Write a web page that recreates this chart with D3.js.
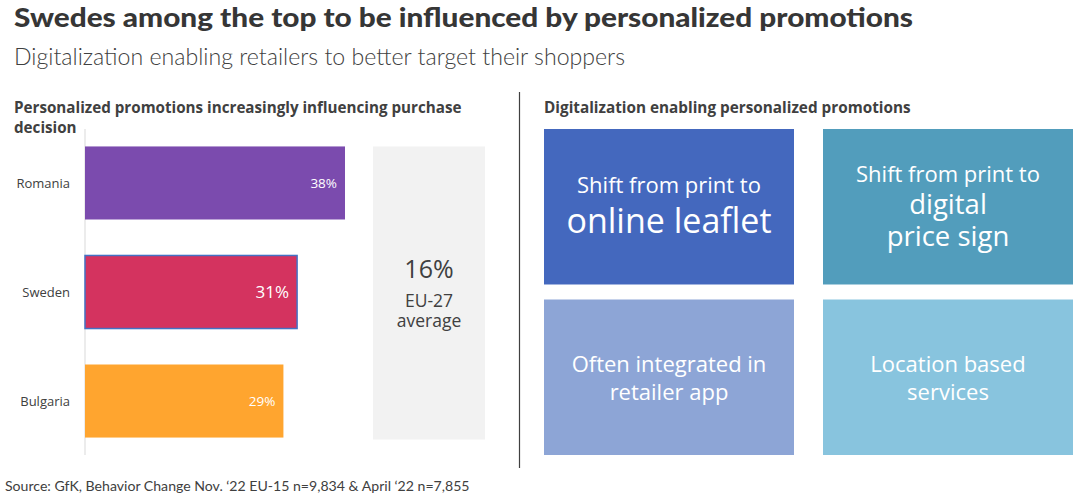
<!DOCTYPE html>
<html>
<head>
<meta charset="utf-8">
<script src="https://cdn.jsdelivr.net/npm/d3@7"></script>
<style>
  html, body { margin: 0; padding: 0; background: #fff; }
  svg { display: block; }
</style>
</head>
<body>
<svg id="chart" width="1086" height="501"></svg>
<script>
// ---- data ----
const countries = ["Romania", "Sweden", "Bulgaria"];
const shares = [38, 31, 29];
const barColors = ["#7B4BAE", "#D4335F", "#FFA52F"];
const euAverage = 16;
const euLabel = ["EU-27", "average"];

const boxTitles = [
  [{t: "Shift from print to", big: false}, {t: "online leaflet", big: true}],
  [{t: "Shift from print to", big: false}, {t: "digital", big: true}, {t: "price sign", big: true}],
  [{t: "Often integrated in", big: false}, {t: "retailer app", big: false}],
  [{t: "Location based", big: false}, {t: "services", big: false}]
];
const boxColors = ["#4468BE", "#529DBC", "#8DA5D6", "#88C4DE"];

const title = "Swedes among the top to be influenced by personalized promotions";
const subtitle = "Digitalization enabling retailers to better target their shoppers";
const leftHeading = ["Personalized promotions increasingly influencing purchase", "decision"];
const rightHeading = "Digitalization enabling personalized promotions";
const source = "Source: GfK, Behavior Change Nov. \u201822 EU-15 n=9,834 & April \u201822 n=7,855";

// ---- drawing ----
const svg = d3.select("#chart");
const textCol = "#404040";

svg.append("text").attr("x", 14).attr("y", 27)
  .attr("font-family", "Lato, sans-serif").attr("font-weight", 900)
  .attr("font-size", 27).attr("fill", "#363636")
  .attr("textLength", 899).attr("lengthAdjust", "spacingAndGlyphs").text(title);

svg.append("text").attr("x", 14).attr("y", 65)
  .attr("font-family", "Lato, sans-serif").attr("font-weight", 300)
  .attr("font-size", 22.5).attr("fill", textCol)
  .attr("textLength", 611).attr("lengthAdjust", "spacingAndGlyphs").text(subtitle);

const headFont = "'Open Sans', 'Noto Sans', sans-serif";
svg.append("text").attr("x", 14).attr("y", 113)
  .attr("font-family", headFont).attr("font-weight", 700)
  .attr("font-size", 15.2).attr("fill", textCol)
  .selectAll("tspan").data(leftHeading).join("tspan")
  .attr("x", 14).attr("dy", (d, i) => i ? 20 : 0).text(d => d);

svg.append("text").attr("x", 544).attr("y", 113)
  .attr("font-family", headFont).attr("font-weight", 700)
  .attr("font-size", 15.3).attr("fill", textCol).text(rightHeading);

// left bar chart
const x0 = 85;
const x = d3.scaleLinear().domain([0, d3.max(shares)]).range([x0, 345]);
const y = d3.scaleBand().domain(countries).range([129, 455]).paddingInner(0.33).paddingOuter(0.16);

svg.append("line").attr("x1", x0).attr("x2", x0).attr("y1", 129).attr("y2", 455)
  .attr("stroke", "#D9D9D9").attr("stroke-width", 1);

const bars = countries.map((c, i) => ({c, v: shares[i], col: barColors[i]}));
svg.selectAll("rect.bar").data(bars).join("rect").attr("class", "bar")
  .attr("x", x(0)).attr("y", d => y(d.c))
  .attr("width", d => x(d.v) - x(0)).attr("height", y.bandwidth())
  .attr("fill", d => d.col)
  .attr("stroke", d => d.c === "Sweden" ? "#4472C4" : "none")
  .attr("stroke-width", 1.5);

svg.selectAll("text.cat").data(bars).join("text").attr("class", "cat")
  .attr("x", 70).attr("y", d => y(d.c) + y.bandwidth() / 2)
  .attr("dy", "0.35em").attr("text-anchor", "end")
  .attr("font-family", headFont).attr("font-size", 13).attr("fill", textCol)
  .text(d => d.c);

svg.selectAll("text.val").data(bars).join("text").attr("class", "val")
  .attr("x", d => x(d.v) - 8).attr("y", d => y(d.c) + y.bandwidth() / 2)
  .attr("dy", "0.35em").attr("text-anchor", "end")
  .attr("font-family", headFont)
  .attr("font-size", d => d.c === "Sweden" ? 17 : 13.5).attr("fill", "#fff")
  .text(d => d.v + "%");

// EU average box
const gTop = y(countries[0]);
const gBot = y(countries[countries.length - 1]) + y.bandwidth() + 2;
svg.append("rect").attr("x", 373).attr("y", gTop).attr("width", 112).attr("height", gBot - gTop)
  .attr("fill", "#F2F2F2");
const gx = 429;
svg.append("text").attr("x", gx).attr("y", 278).attr("text-anchor", "middle")
  .attr("font-family", headFont).attr("font-size", 25).attr("fill", textCol).text(euAverage + "%");
svg.selectAll("text.eu").data(euLabel).join("text").attr("class", "eu")
  .attr("x", gx).attr("y", (d, i) => 306.5 + i * 20).attr("text-anchor", "middle")
  .attr("font-family", headFont).attr("font-size", 17.5).attr("fill", textCol).text(d => d);

// separator
svg.append("line").attr("x1", 519.5).attr("x2", 519.5).attr("y1", 92).attr("y2", 468)
  .attr("stroke", "#404040").attr("stroke-width", 1.2);

// right boxes
const bx = d3.scaleBand().domain([0, 1]).range([544, 1073]).paddingInner(0.104);
const by = d3.scaleBand().domain([0, 1]).range([129, 455]).paddingInner(0.088);
const boxes = boxTitles.map((lines, i) => ({lines, col: boxColors[i], c: i % 2, r: Math.floor(i / 2)}));
const bg = svg.selectAll("g.box").data(boxes).join("g").attr("class", "box")
  .attr("transform", d => `translate(${bx(d.c)},${by(d.r)})`);
bg.append("rect").attr("width", bx.bandwidth()).attr("height", by.bandwidth()).attr("fill", d => d.col);

const lineLayouts = [
  [{y: 64, s: 22}, {y: 104, s: 34}],
  [{y: 53, s: 22}, {y: 85, s: 27.5}, {y: 117, s: 27.5}],
  [{y: 72, s: 22}, {y: 100, s: 22}],
  [{y: 72, s: 22}, {y: 100, s: 22}]
];
bg.each(function(d, i) {
  const g = d3.select(this);
  d.lines.forEach((ln, j) => {
    const L = lineLayouts[i][j];
    g.append("text").attr("x", bx.bandwidth() / 2).attr("y", L.y)
      .attr("text-anchor", "middle").attr("font-family", headFont)
      .attr("font-size", L.s).attr("fill", "#fff").text(ln.t);
  });
});

// source
svg.append("text").attr("x", 5).attr("y", 491)
  .attr("font-family", "Lato, sans-serif").attr("font-size", 14.1).attr("fill", textCol).text(source);
</script>
</body>
</html>
